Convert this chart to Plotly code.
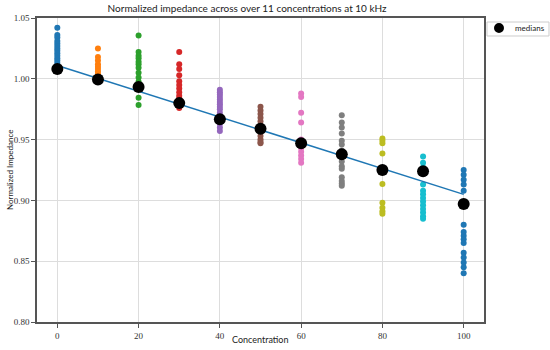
import numpy as np
import plotly.graph_objects as go

concentrations = [0, 10, 20, 30, 40, 50, 60, 70, 80, 90, 100]

samples_0 = [1.042, 1.036, 1.034, 1.031, 1.029, 1.027, 1.025, 1.023, 1.021, 1.019, 1.017, 1.015, 1.013, 1.011, 1.009, 1.008, 1.007]
samples_10 = [1.025, 1.018, 1.015, 1.012, 1.010, 1.008, 1.006, 1.004, 1.002, 1.000, 0.999]
samples_20 = [1.0356, 1.022, 1.019, 1.017, 1.014, 1.012, 1.009, 1.005, 1.001, 0.9975, 0.994, 0.9844, 0.9784]
samples_30 = [1.022, 1.012, 1.008, 1.003, 0.998, 0.995, 0.992, 0.989, 0.986, 0.984, 0.982, 0.980, 0.978, 0.976]
samples_40 = [0.991, 0.989, 0.987, 0.985, 0.983, 0.981, 0.979, 0.977, 0.975, 0.972, 0.969, 0.966, 0.963, 0.960, 0.957]
samples_50 = [0.977, 0.974, 0.971, 0.968, 0.965, 0.962, 0.959, 0.956, 0.953, 0.950, 0.948, 0.947]
samples_60 = [0.988, 0.985, 0.972, 0.964, 0.950, 0.946, 0.943, 0.940, 0.937, 0.934, 0.931]
samples_70 = [0.970, 0.964, 0.960, 0.955, 0.949, 0.946, 0.941, 0.932, 0.928, 0.926, 0.919, 0.916, 0.914, 0.912]
samples_80 = [0.951, 0.949, 0.947, 0.9385, 0.9134, 0.898, 0.894, 0.891, 0.889]
samples_90 = [0.936, 0.931, 0.927, 0.913, 0.908, 0.905, 0.902, 0.899, 0.896, 0.893, 0.890, 0.887, 0.885]
samples_100 = [0.925, 0.921, 0.917, 0.913, 0.908, 0.880, 0.874, 0.871, 0.868, 0.865, 0.857, 0.853, 0.849, 0.845, 0.840]

samples = [samples_0, samples_10, samples_20, samples_30, samples_40, samples_50,
           samples_60, samples_70, samples_80, samples_90, samples_100]

medians = [1.008, 0.9995, 0.9932, 0.980, 0.9667, 0.959, 0.947, 0.938, 0.925, 0.924, 0.897]

colors = ["#1f77b4", "#ff7f0e", "#2ca02c", "#d62728", "#9467bd", "#8c564b",
          "#e377c2", "#7f7f7f", "#bcbd22", "#17becf", "#1f77b4"]

x_ticks = [0, 20, 40, 60, 80, 100]
y_ticks = [0.80, 0.85, 0.90, 0.95, 1.00, 1.05]
y_tick_labels = ["0.80", "0.85", "0.90", "0.95", "1.00", "1.05"]
legend_label = "medians"
title_text = "Normalized impedance across over 11 concentrations at 10 kHz"
x_title = "Concentration"
y_title = "Normalized Impedance"

fig = go.Figure()

for c, vals, col in zip(concentrations, samples, colors):
    fig.add_trace(go.Scatter(
        x=[c] * len(vals), y=vals, mode="markers",
        marker=dict(color=col, size=6, line=dict(width=0)),
        showlegend=False, hoverinfo="skip"))

slope, intercept = np.polyfit(concentrations, medians, 1)
fit_x = [concentrations[0], concentrations[-1]]
fit_y = [intercept + slope * v for v in fit_x]
fig.add_trace(go.Scatter(x=fit_x, y=fit_y, mode="lines",
                         line=dict(color="#1f77b4", width=1.5),
                         showlegend=False))

fig.add_trace(go.Scatter(x=concentrations, y=medians, mode="markers", name=legend_label,
                         showlegend=False,
                         marker=dict(color="black", size=12, line=dict(width=0))))

axis_common = dict(showline=True, linecolor="#555555", linewidth=1.5, mirror=True,
                   showgrid=True, gridcolor="#dddddd", gridwidth=1,
                   ticks="outside", ticklen=4, tickcolor="#555555", zeroline=False,
                   automargin=False,
                   tickfont=dict(family="Liberation Serif", size=9, color="#333333"))

# manual legend (box, marker, label) placed right of the plot area
fig.add_shape(type="rect", xref="paper", yref="paper",
              x0=1.0067, x1=1.1454, y0=0.9408, y1=0.9868,
              line=dict(color="#cccccc", width=1), fillcolor="white")
fig.add_shape(type="circle", xref="paper", yref="paper",
              x0=1.0224, x1=1.0447, y0=0.9507, y1=0.9836,
              line=dict(width=0), fillcolor="black")
fig.add_annotation(text=legend_label, xref="paper", yref="paper",
                   x=1.0649, y=0.9671, xanchor="left", yanchor="middle",
                   showarrow=False,
                   font=dict(family="Lato", size=8, color="#222222"))

# axis titles
fig.add_annotation(text=x_title, xref="paper", yref="paper",
                   x=0.5, y=-0.0592, xanchor="center", yanchor="middle",
                   showarrow=False,
                   font=dict(family="Lato", size=9, color="#222222"))
fig.add_annotation(text=y_title, xref="paper", yref="paper",
                   x=-0.0604, y=0.5, xanchor="center", yanchor="middle",
                   textangle=-90, showarrow=False,
                   font=dict(family="Lato", size=8, color="#222222"))

fig.update_layout(
    width=550, height=350,
    margin=dict(l=37, r=66, t=18, b=28, autoexpand=False),
    paper_bgcolor="white", plot_bgcolor="white",
    showlegend=False,
    title=dict(text=title_text,
               x=0.47, xref="paper", y=0.975, yref="container",
               xanchor="center", yanchor="middle",
               font=dict(family="Lato", size=10, color="#222222")),
    xaxis=dict(range=[-5, 105], tickvals=x_ticks, **axis_common),
    yaxis=dict(range=[0.80, 1.05], tickvals=y_ticks, ticktext=y_tick_labels,
               **axis_common),
)

fig.write_html("out.html", config={"displayModeBar": False},
               post_script="document.body.style.margin='0';")
